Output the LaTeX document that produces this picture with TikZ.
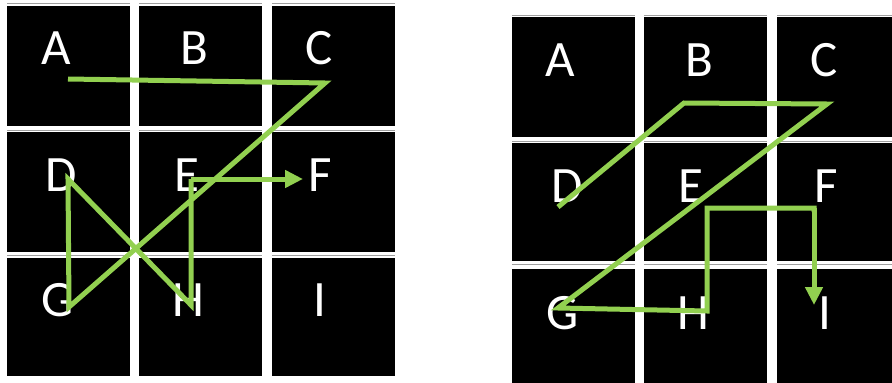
\documentclass[tikz,border=0pt]{standalone}
\usepackage{fontspec}
\setmainfont{Carlito}
\usetikzlibrary{arrows.meta}
\definecolor{pathgreen}{RGB}{146,208,80}
\tikzset{
  cellbox/.style={fill=black},
  rule/.style={draw=gray!75, line width=1pt},
  lbl/.style={text=white, font=\fontsize{51}{51}\selectfont, inner sep=0pt, anchor=center},
  route/.style={draw=pathgreen, line width=5pt, line join=miter},
  routearrow/.style={route, -{Triangle[length=18pt,width=17pt]}}
}
\begin{document}
\begin{tikzpicture}[x=1pt,y=-1pt]
\useasboundingbox (0,0) rectangle (892,383);
\fill[white] (0,0) rectangle (892,383);
% ---- left grid ----
\foreach \xa/\xb in {7/130,139/262,272/395}{
  \foreach \ya/\yb/\yl in {6/126/3.8,132/252/130.3,258/376/255.6}{
    \fill[cellbox] (\xa,\ya) rectangle (\xb,\yb);
    \draw[rule] (\xa,\yl) -- (\xb,\yl);
  }
}
% ---- right grid ----
\foreach \xa/\xb in {512/635,644/767,777/892}{
  \foreach \ya/\yb/\yl in {17/137/15.5,143/261/141.5,269/383/264.8}{
    \fill[cellbox] (\xa,\ya) rectangle (\xb,\yb);
    \draw[rule] (\xa,\yl) -- (\xb,\yl);
  }
}
% ---- left labels ----
\node[lbl] (lA) at (56,48) {A};
\node[lbl] (lB) at (194,48) {B};
\node[lbl] (lC) at (319,48) {C};
\node[lbl] (lD) at (61,175) {D};
\node[lbl] (lE) at (187,175) {E};
\node[lbl] (lF) at (320,175) {F};
\node[lbl] (lG) at (58,300) {G};
\node[lbl] (lH) at (188,300) {H};
\node[lbl] (lI) at (320,300) {I};
% ---- right labels ----
\node[lbl] (rA) at (560,60) {A};
\node[lbl] (rB) at (699,60) {B};
\node[lbl] (rC) at (824,60) {C};
\node[lbl] (rD) at (567,186) {D};
\node[lbl] (rE) at (691,186) {E};
\node[lbl] (rF) at (826,186) {F};
\node[lbl] (rG) at (563,313) {G};
\node[lbl] (rH) at (693,313) {H};
\node[lbl] (rI) at (825,313) {I};
% ---- left route ----
\coordinate (p1) at (68,79);
\coordinate (p2) at (325,83);
\coordinate (p3) at (69,307);
\coordinate (p4) at (68,179);
\coordinate (p5) at (191,305);
\coordinate (p6) at (191,180);
\coordinate (p7) at (303,179);
\draw[route] (p1) -- (p2) -- (p3) -- (p4) -- (p5) -- (p6) -- (191,179);
\draw[routearrow] (p6 |- p7) -- (p7);
% ---- right route ----
\coordinate (q1) at (558,207);
\coordinate (q2) at (684,103);
\coordinate (q3) at (827,104);
\coordinate (q4) at (558,308);
\coordinate (q5) at (707,311);
\coordinate (q6) at (707,208);
\coordinate (q7) at (814,208);
\coordinate (q8) at (814,305);
\draw[route] (q1) -- (q2) -- (q3) -- (q4) -- (q5) -- (q6) -- (q7) -- (814,212);
\draw[routearrow] (q7) -- (q8);
\end{tikzpicture}
\end{document}
